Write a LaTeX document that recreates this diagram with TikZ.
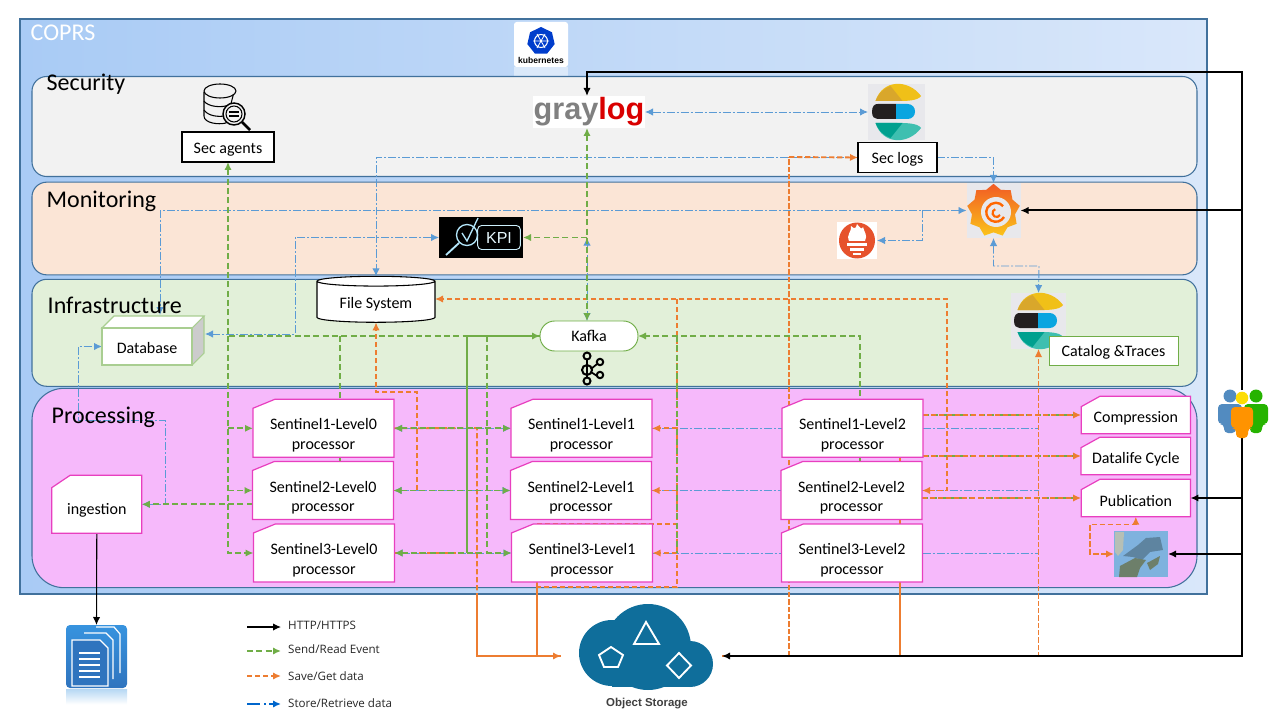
\documentclass[tikz,border=0pt]{standalone}
\usepackage{fontspec}
\usepackage{xcolor}
\setmainfont{Carlito}
\newfontfamily\legendfont{Open Sans}
\newfontfamily\logofont{Liberation Sans}
\usetikzlibrary{shapes,arrows.meta,positioning}
\pgfdeclarelayer{panels}
\pgfdeclarelayer{links}
\pgfsetlayers{panels,links,main}
\definecolor{frameblue}{HTML}{41719C}
\definecolor{sendgreen}{HTML}{70AD47}
\definecolor{saveorange}{HTML}{ED7D31}
\definecolor{storeblue}{HTML}{5B9BD5}
\definecolor{procpink}{HTML}{E83FBF}
\definecolor{iconback}{HTML}{E8E8EC}
\definecolor{cloudblue}{HTML}{0F6E9B}
\definecolor{coprsleft}{HTML}{A9CBF5}
\definecolor{coprsright}{HTML}{D9E7FA}
\definecolor{securityfill}{HTML}{F2F2F2}
\definecolor{monitorfill}{HTML}{FBE5D6}
\definecolor{infrafill}{HTML}{E2F0D9}
\definecolor{processfill}{HTML}{F6B9FB}
\definecolor{elasticyellow}{HTML}{F0C018}
\definecolor{elasticgold}{HTML}{D9A72B}
\definecolor{elasticblack}{HTML}{231F20}
\definecolor{elasticblue}{HTML}{0AA5E0}
\definecolor{elasticteal}{HTML}{3EBFB0}
\definecolor{elasticdark}{HTML}{00A08F}
\definecolor{grafanatop}{HTML}{F15A24}
\definecolor{grafanabottom}{HTML}{FBC31A}
\definecolor{promred}{HTML}{E6522C}
\definecolor{docstop}{HTML}{3793DF}
\definecolor{docsbottom}{HTML}{2F74BE}
\definecolor{mapsea}{HTML}{7FB2DE}
\definecolor{mapland}{HTML}{5E84A0}
\definecolor{mapsoil}{HTML}{6D7F6A}

\newcommand{\proclabel}[1]{\rule{0pt}{19pt}#1\\processor}

\tikzset{
    panel/.style={rectangle, draw=frameblue, line width=0.8pt, rounded corners=11pt, minimum width=873.75pt, outer sep=0pt},
    paneltitle/.style={anchor=west, font=\fontsize{18}{20}\selectfont},
    snipbox/.style={chamfered rectangle, chamfered rectangle corners=north west, draw=procpink, fill=white, line width=0.9pt, align=center, inner sep=0pt, outer sep=0pt, font=\fontsize{12}{14.7}\selectfont},
    procbox/.style={snipbox, chamfered rectangle xsep=8.6pt, chamfered rectangle angle=67.7, minimum width=105.75pt, minimum height=43.5pt},
    sidebox/.style={snipbox, chamfered rectangle xsep=8.25pt, chamfered rectangle angle=61, minimum width=82pt, minimum height=28pt, execute at begin node={\rule{0pt}{13.5pt}}},
    tagbox/.style={rectangle, draw=black, fill=white, line width=0.8pt, minimum height=22.5pt, inner sep=0pt, outer sep=0pt, font=\fontsize{12}{14}\selectfont, execute at begin node={\rule{0pt}{11.5pt}}},
    logobox/.style={rectangle, inner sep=0pt, outer sep=0pt},
    http/.style={draw=black, line width=1.5pt},
    event/.style={draw=sendgreen, line width=1.4pt, dash pattern=on 4.5pt off 2.5pt},
    eventsolid/.style={draw=sendgreen, line width=1.2pt},
    save/.style={draw=saveorange, line width=1.4pt, dash pattern=on 4pt off 2pt},
    savethin/.style={draw=saveorange, line width=0.9pt, dash pattern=on 4pt off 1.5pt},
    savesolid/.style={draw=saveorange, line width=1.3pt},
    store/.style={draw=storeblue, line width=0.7pt, dash pattern=on 6pt off 1.5pt on 1.5pt off 1.5pt},
    legendtext/.style={anchor=west, font=\legendfont\fontsize{8.7}{10}\selectfont, text=black!85},
    pics/elasticlogo/.style={code={
        \fill[elasticyellow] (-21,-11) .. controls (-14,-33) and (12,-33) .. (24.5,-16) .. controls (21,-11) and (10,-11) .. (0,-11) -- cycle;
        \fill[elasticgold] (-21,-11) .. controls (-18,-19) and (-12,-24) .. (-6,-26) -- (6,-11) -- cycle;
        \fill[elasticblack] (-24.5,0) .. controls (-24.5,-6) and (-22,-8) .. (-19,-8) -- (-0.5,-8) -- (-0.5,7) -- (-19,7) .. controls (-22,7) and (-24.5,5) .. (-24.5,0) -- cycle;
        \fill[elasticblue] (-0.5,-8) -- (11,-8) .. controls (21,-8) and (21,7) .. (11,7) -- (-0.5,7) -- cycle;
        \fill[elasticteal] (-21,11) .. controls (-14,33) and (12,33) .. (24.5,16) .. controls (21,11) and (10,11) .. (0,11) -- cycle;
        \fill[elasticdark] (-21,11) .. controls (-18,19) and (-12,24) .. (-6,26) -- (6,11) -- cycle;
    }}
}

\begin{document}
\begin{tikzpicture}[x=0.75pt, y=-0.75pt, >={Latex[length=6pt,width=5.5pt]}]
    \useasboundingbox (0,0) rectangle (1280,720);

    % Panels
    \begin{pgfonlayer}{panels}
        \node[rectangle, draw=frameblue, line width=0.8pt, left color=coprsleft, right color=coprsright, minimum width=890.25pt, minimum height=431.25pt, outer sep=0pt] (coprs) at (613.5,306.5) {};
        \node[logobox, fill=white, opacity=0.45, minimum width=40.5pt, minimum height=7pt] (kubemirror) at (541,71.5) {};
        \node[panel, fill=securityfill, minimum height=75pt] (security) at (614.5,126.5) {};
        \node[panel, fill=monitorfill, minimum height=69.5pt] (monitoring) at (614.5,228.5) {};
        \node[panel, fill=infrafill, minimum height=80.25pt] (infra) at (614.5,332.8) {};
        \node[panel, rounded corners=24pt, fill=processfill, minimum height=149.5pt] (processing) at (614.5,488) {};
    \end{pgfonlayer}
    \node[paneltitle, text=white] (coprstitle) at (26,33) {COPRS};
    \node[paneltitle] (securitytitle) at (42,84) {Security};
    \node[paneltitle] (monitoringtitle) at (42,201) {Monitoring};
    \node[paneltitle] (infratitle) at (43,305) {Infrastructure};
    \node[paneltitle] (processingtitle) at (47,417) {Processing};

    % Security
    \node[logobox, fill=white, rounded corners=2pt, minimum width=40.5pt, minimum height=33.75pt] (kubernetes) at (541,44.5) {};
    \node[regular polygon, regular polygon sides=7, fill=blue!70!cyan!80!black, minimum size=21pt, inner sep=0pt] (kubewheel) at (541,41) {};
    \draw[white, line width=0.8pt] (kubewheel.center) circle (6.5);
    \draw[white, line width=0.6pt] (533,41) -- (549,41) (537,34) -- (545,48) (545,34) -- (537,48);
    \node[font=\logofont\bfseries\fontsize{6.4}{7}\selectfont, inner sep=0pt] (kubetext) at (541,60) {kubernetes};
    \node[logobox, fill=white, text=gray, minimum width=84pt, minimum height=24pt, font=\logofont\bfseries\fontsize{23}{24}\selectfont] (graylog) at (589,112) {gray\textcolor{red!85!black}{log}};
    \node[logobox, fill=iconback, minimum width=42.75pt, minimum height=42pt] (secelastic) at (896.5,112) {};
    \pic at (secelastic.center) {elasticlogo};
    \node[tagbox, minimum width=69pt] (secagents) at (228,147) {Sec agents};
    \node[tagbox, minimum width=59.25pt] (seclogs) at (897.5,157.5) {Sec logs};
    % Sec agents icon
    \node[logobox, minimum width=34pt, minimum height=34pt] (secicon) at (227,107) {};
    \draw[black, line width=0.8pt, fill=securityfill] (204,92) -- (204,116) .. controls (204,123) and (218,125) .. (226,123) -- (234,92);
    \draw[black, line width=0.8pt, fill=securityfill] (220,91) ellipse (16 and 7);
    \draw[black, line width=0.8pt] (204,101) .. controls (208,107) and (222,108) .. (229,105) (204,110) .. controls (208,116) and (218,117) .. (224,116);
    \draw[black, line width=1.1pt, fill=securityfill] (234,114) circle (11);
    \draw[black, line width=0.8pt] (234,114) circle (8);
    \draw[black, line width=2pt] (242,122) -- (250,130);
    \draw[black, line width=0.9pt] (229,112) -- (239,112) (229,116) -- (239,116);

    % Monitoring
    \node[logobox, fill=black, minimum width=63pt, minimum height=30.75pt] (kpi) at (481,237.5) {};
    \node[draw=cyan!20!white, rounded corners=3pt, line width=0.7pt, inner sep=1pt, minimum width=32pt, minimum height=18pt, text=cyan!10!white, font=\logofont\fontsize{12}{13}\selectfont] (kpitext) at (499,237.5) {KPI};
    \draw[cyan!30!white, line width=1pt] (467,235) circle (10.5);
    \draw[cyan!30!white, line width=1.4pt] (459,243) -- (446,255);
    \draw[cyan!30!white, line width=1pt] (462,233) -- (467,241) -- (478,218);
    \node[logobox, fill=iconback, minimum width=40.5pt, minimum height=41.25pt] (grafana) at (993.5,210.5) {};
    \node[star, star points=9, star point ratio=1.22, top color=grafanatop, bottom color=grafanabottom, minimum size=40pt, inner sep=0pt] (grafanagear) at (993.5,210.5) {};
    \fill[iconback] (996,212) circle (15);
    \draw[orange!80!red, line width=1.8pt] (1004,217) arc (30:320:9.5);
    \draw[orange!80!red, line width=1.6pt] (1000,215) arc (30:250:4);
    \node[logobox, fill=white, minimum width=30pt, minimum height=27.75pt] (prometheus) at (857,240.5) {};
    \fill[promred] (857,240.5) ellipse (18 and 18);
    \fill[white] (849,241) .. controls (846,234) and (852,232) .. (851,226) .. controls (855,230) and (856,228) .. (857,224) .. controls (860,228) and (862,230) .. (863,227) .. controls (864,232) and (868,235) .. (865,241) -- cycle;
    \fill[white] (847,243) rectangle (867,246);
    \fill[white] (850,248) rectangle (864,251);
    \fill[white] (853,253) rectangle (861,255);

    % Infrastructure
    \node[cylinder, draw=black, fill=white, shape border rotate=90, aspect=0.135, line width=0.8pt, minimum width=88.5pt, minimum height=34.5pt, inner sep=0pt, outer sep=0pt, font=\fontsize{12}{14}\selectfont, execute at begin node={\rule{0pt}{11.5pt}}] (filesys) at (376,302) {File System};
    \fill[black!20] (192,328) -- (204,316) -- (204,353) -- (192,365) -- cycle;
    \draw[sendgreen!60!white, line width=0.8pt, fill=white] (102,328) -- (114,316) -- (204,316) -- (192,328) -- cycle;
    \draw[sendgreen!60!white, line width=0.8pt] (204,316) -- (204,353) -- (192,365);
    \node[rectangle, draw=sendgreen!60!white, fill=white, line width=0.8pt, minimum width=67.5pt, minimum height=27.75pt, inner sep=0pt, outer sep=0pt, font=\fontsize{12}{14}\selectfont, execute at begin node={\rule{0pt}{10.5pt}}] (db) at (147,346.5) {Database};
    \node[rectangle, rounded corners=11pt, draw=sendgreen, fill=white, line width=0.7pt, minimum width=73.5pt, minimum height=22.5pt, inner sep=0pt, outer sep=0pt, font=\fontsize{12}{14}\selectfont] (kafka) at (589,336) {Kafka};
    \draw[black, line width=1.3pt] (587,360) -- (587,377) (591,369) -- (597,364) (591,372) -- (597,376);
    \draw[black, line width=1.5pt] (587,356) circle (3.5) (587,370) circle (5) (587,381) circle (3.5) (600,362) circle (3.2) (600,375) circle (3.2);
    \node[logobox, fill=iconback, minimum width=41.25pt, minimum height=42pt] (cataloglogo) at (1038.5,321) {};
    \pic at (cataloglogo.center) {elasticlogo};
    \node[tagbox, draw=sendgreen, line width=0.7pt, minimum width=96.75pt, minimum height=21.75pt] (catalog) at (1113.5,350.5) {Catalog \&Traces};

    % Processing
    \node[snipbox, chamfered rectangle xsep=9pt, chamfered rectangle angle=56, minimum height=43.5pt, minimum width=67.5pt, execute at begin node={\rule{0pt}{17pt}}] (ingestion) at (96.8,504.3) {ingestion};
    \node[procbox] (s1l0) at (323.5,428.3) {\proclabel{Sentinel1-Level0}};
    \node[procbox] (s2l0) at (323,490.5) {\proclabel{Sentinel2-Level0}};
    \node[procbox] (s3l0) at (324,553) {\proclabel{Sentinel3-Level0}};
    \node[procbox] (s1l1) at (581.5,428.3) {\proclabel{Sentinel1-Level1}};
    \node[procbox] (s2l1) at (581,490.5) {\proclabel{Sentinel2-Level1}};
    \node[procbox] (s3l1) at (582,553) {\proclabel{Sentinel3-Level1}};
    \node[procbox] (s1l2) at (852.5,428.3) {\proclabel{Sentinel1-Level2}};
    \node[procbox] (s2l2) at (851.5,490.5) {\proclabel{Sentinel2-Level2}};
    \node[procbox] (s3l2) at (852,553) {\proclabel{Sentinel3-Level2}};
    \node[sidebox] (compression) at (1135.8,415) {Compression};
    \node[sidebox] (datalife) at (1135.8,456) {Datalife Cycle};
    \node[sidebox] (publication) at (1135.8,498) {Publication};
    % Map
    \node[logobox, fill=mapsea, minimum width=40.5pt, minimum height=34.5pt] (map) at (1141,554) {};
    \fill[mapsoil!50!white] (1115,532) -- (1124,532) -- (1123,550) -- (1118,556) -- (1115,552) -- cycle;
    \fill[mapland] (1123,556) -- (1138,545) -- (1146,538) -- (1160,537) -- (1163,550) -- (1150,552) -- (1142,560) -- (1133,557) -- cycle;
    \fill[mapsoil] (1120,566) -- (1135,558) -- (1146,560) -- (1140,568) -- (1137,577) -- (1119,577) -- cycle;
    \fill[mapsoil] (1147,563) -- (1160,556) -- (1158,564) -- (1150,570) -- cycle;

    % Outside
    \node[logobox, minimum width=37.5pt, minimum height=36pt] (users) at (1242,414) {};
    \fill[storeblue!90!black] (1230,396) circle (6.5);
    \fill[storeblue!90!black, rounded corners=3pt] (1218,424) -- (1218,404) -- (1242,404) -- (1242,424) -- (1236,424) -- (1236,433) -- (1224,433) -- (1224,424) -- cycle;
    \fill[green!65!black!85!yellow] (1256,396) circle (6.5);
    \fill[green!65!black!85!yellow, rounded corners=3pt] (1244,424) -- (1244,404) -- (1268,404) -- (1268,424) -- (1262,424) -- (1262,433) -- (1250,433) -- (1250,424) -- cycle;
    \fill[yellow!80!orange] (1242,398) circle (6.3);
    \fill[orange!85!yellow, rounded corners=3pt] (1231,428) -- (1231,407) -- (1253,407) -- (1253,428) -- (1248,428) -- (1248,438) -- (1236,438) -- (1236,428) -- cycle;

    \node[logobox, minimum width=120.75pt, minimum height=45pt] (objstore) at (641.5,656) {};
    \fill[cloudblue] (648,647) circle (43);
    \fill[cloudblue] (612,653) circle (33);
    \fill[cloudblue] (690,664) circle (23);
    \fill[cloudblue] (612,660) rectangle (690,687);
    \draw[white, line width=1.4pt] (611,647) -- (623,655) -- (618,667) -- (604,667) -- (599,655) -- cycle;
    \draw[white, line width=1.4pt] (646,622) -- (659,644) -- (634,644) -- cycle;
    \draw[white, line width=1.4pt] (679,653) -- (691,665.5) -- (679,678) -- (667,665.5) -- cycle;
    \node[font=\logofont\bfseries\fontsize{8.6}{10}\selectfont, text=black!75, inner sep=0pt] (objstoretext) at (647,704) {Object Storage};

    \node[logobox, rounded corners=3pt, top color=docstop, bottom color=docsbottom, minimum width=45.75pt, minimum height=47.25pt] (docs) at (96.5,656.5) {};
    \draw[white, line width=0.9pt] (96,627) -- (114,627) -- (120,634) -- (120,673);
    \draw[white, line width=0.9pt] (84,633) -- (106,633) -- (113,640) -- (113,679);
    \draw[white, line width=1pt, fill=docsbottom] (72,640) -- (100,640) -- (108,648) -- (108,686) -- (72,686) -- cycle;
    \draw[white, line width=1.2pt] (79,653) -- (100,653) (79,659) -- (100,659) (79,665) -- (100,665) (79,671) -- (100,671) (79,677) -- (100,677);
    \node[logobox, top color=docstop!35!white, bottom color=white, minimum width=45.75pt, minimum height=11pt] (docsmirror) at (96.5,697) {};

    % Legend
    \node[legendtext] (httplabel) at (283.5,625) {HTTP/HTTPS};
    \node[legendtext] (eventlabel) at (283.5,649) {Send/Read Event};
    \node[legendtext] (savelabel) at (283.5,676) {Save/Get data};
    \node[legendtext] (storelabel) at (283.5,703) {Store/Retrieve data};
    \coordinate (httpstart) at (247,627);
    \coordinate (eventstart) at (247,651);
    \coordinate (savestart) at (247,676);
    \coordinate (storestart) at (247,704);

    % Bends and taps of the connectors
    \coordinate (graytop) at (587,72);
    \coordinate (dbtop) at (160,315);
    \coordinate (dbside) at (205,334);
    \coordinate (kpibend) at (295,334);
    \coordinate (promtap) at (922,210.5);
    \coordinate (catbend) at (1039,266);
    \coordinate (ingbenda) at (165,420);
    \coordinate (ingbendb) at (78,420);
    \coordinate (busleft) at (228,336);
    \coordinate (bustap) at (340,336);
    \coordinate (busa) at (467,336);
    \coordinate (busb) at (487,336);
    \coordinate (busc) at (860,336);
    \coordinate (busd) at (677,336);
    \coordinate (fsbend) at (417,392);
    \coordinate (fstop) at (947,299);
    \coordinate (l1drop) at (677,299);
    \coordinate (l1out) at (537,587);
    \coordinate (l0tap) at (477,428);
    \coordinate (secdrop) at (789,157);
    \coordinate (l2drop) at (900,458);
    \coordinate (loopbend) at (1090,524.5);

    \begin{pgfonlayer}{links}
        % Store/Retrieve
        \draw[store, <->] (graylog.east) -- (secelastic.west);
        \draw[store, ->] (seclogs.west) -| (filesys.north);
        \draw[store, ->] (seclogs.east) -| (grafana.north);
        \draw[store, <->] (grafana.west) -| (dbtop);
        \draw[store, <->] (kpi.west) -| (kpibend) -- (dbside);
        \draw[store, ->] (promtap) |- (prometheus.east);
        \draw[store, <->] (grafana.south) |- (catbend) -- (cataloglogo.north);
        \draw[store, <->] (ingestion.east) -| (ingbenda) -- (ingbendb) |- (db.west);
        \draw[store, <->] (graytop |- kpi.east) -- (kafka.north -| graytop);
        \draw[store, <->] (s1l0.east) -- (s1l1.west);
        \draw[store, <->] (s2l0.east) -- (s2l1.west);
        \draw[store, <->] (s3l0.east) -- (s3l1.west);
        \draw[store] (s1l1.east) -- (s1l2.west);
        \draw[store] (s2l1.east) -- (s2l2.west);
        \draw[store] (s3l1.east) -- (s3l2.west);
        \draw[store] (s1l2.east) -- (s1l2.east -| catbend);
        \draw[store] (s2l2.east) -- (s2l2.east -| catbend);
        \draw[store] (s3l2.east) -- (s3l2.east -| catbend);

        % Save/Get
        \draw[save, ->] (s2l0.east) -| (fsbend) -| (filesys.south);
        \draw[save, <->] (s2l2.east) -| (fstop) -- (filesys.east |- fstop);
        \draw[save] (l1drop) |- (l1out);
        \draw[save] (s3l1.north -| l1out) -| (l1drop);
        \draw[savesolid] (s3l1.south -| l1out) |- (objstore.west);
        \draw[save] (s1l0.east) -- (l0tap) -- (l0tap |- coprs.south);
        \draw[savesolid, ->] (l0tap |- coprs.south) |- (objstore.west);
        \draw[save] (s3l0.east) -- (s3l0.east -| l0tap);
        \draw[save, ->] (l1drop |- s1l1.east) -- (s1l1.east);
        \draw[save, ->] (l1drop |- s2l1.east) -- (s2l1.east);
        \draw[save, ->] (l1drop |- s3l1.east) -- (s3l1.east);
        \draw[savethin] (objstore.east -| secdrop) -- (secdrop);
        \draw[save, ->] (secdrop) -- (seclogs.west);
        \draw[savesolid] (l2drop) -- (objstore.east -| l2drop);
        \draw[savethin, ->] (objstore.east) -| (cataloglogo.south);
        \draw[save, <->] (map.west) -| (loopbend) -| (publication.south);

        % Send/Read
        \draw[event, <->] (secagents.south) |- (kafka.west);
        \draw[event, ->] (busleft) |- (s3l0.west);
        \draw[event, ->] (busleft |- s1l0.west) -- (s1l0.west);
        \draw[event, ->] (busleft |- s2l0.west) -- (s2l0.west);
        \draw[event, ->] (s2l0.west |- ingestion.east) -- (ingestion.east);
        \draw[event] (bustap) -- (bustap |- s2l0.north);
        \draw[event, <->] (s1l0.east) -- (s1l1.west);
        \draw[event, <->] (s2l0.east) -- (s2l1.west);
        \draw[event, <->] (s3l0.east) -- (s3l1.west);
        \draw[eventsolid] (kafka.west) -- (busa) -- (busa |- s3l0.east);
        \draw[event] (busb) -- (busb |- s3l1.west);
        \draw[event, <->] (graylog.south -| graytop) -- (kafka.north -| graytop);
        \draw[event, ->] (graytop |- kpi.east) -- (kpi.east);
        \draw[event, ->] (busc |- s2l2.north) |- (kafka.east);
        \draw[event] (busd) -- (busd |- s3l1.east);
        \draw[event] (s1l2.east |- compression.west) -- (compression.west);
        \draw[event] (s1l2.east |- datalife.west) -- (datalife.west);
        \draw[event] (s2l2.east |- publication.west) -- (publication.west);
        \draw[save, ->] (s1l2.east |- compression.west) -- (compression.west);
        \draw[save, ->] (s1l2.east |- datalife.west) -- (datalife.west);
        \draw[save, ->] (s2l2.east |- publication.west) -- (publication.west);

        % HTTP
        \draw[http, ->] (users.north) |- (graytop) -- (graylog.north -| graytop);
        \draw[http, ->] (users.north |- grafana.east) -- (grafana.east);
        \draw[http, ->] (users.south |- publication.east) -- (publication.east);
        \draw[http, ->] (users.south |- map.east) -- (map.east);
        \draw[http, ->] (users.south) |- (objstore.east);
        \draw[black, line width=0.8pt, ->] (ingestion.south) -- (docs.north);

        % Legend arrows
        \draw[black, line width=0.8pt, ->] (httpstart) -- ++(34,0);
        \draw[event, ->] (eventstart) -- ++(34,0);
        \draw[save, ->] (savestart) -- ++(34,0);
        \draw[draw=blue!50!cyan!80!black, line width=1.2pt, dash pattern=on 10pt off 3pt on 1.5pt off 2pt, ->] (storestart) -- ++(34,0);
    \end{pgfonlayer}
\end{tikzpicture}
\end{document}
